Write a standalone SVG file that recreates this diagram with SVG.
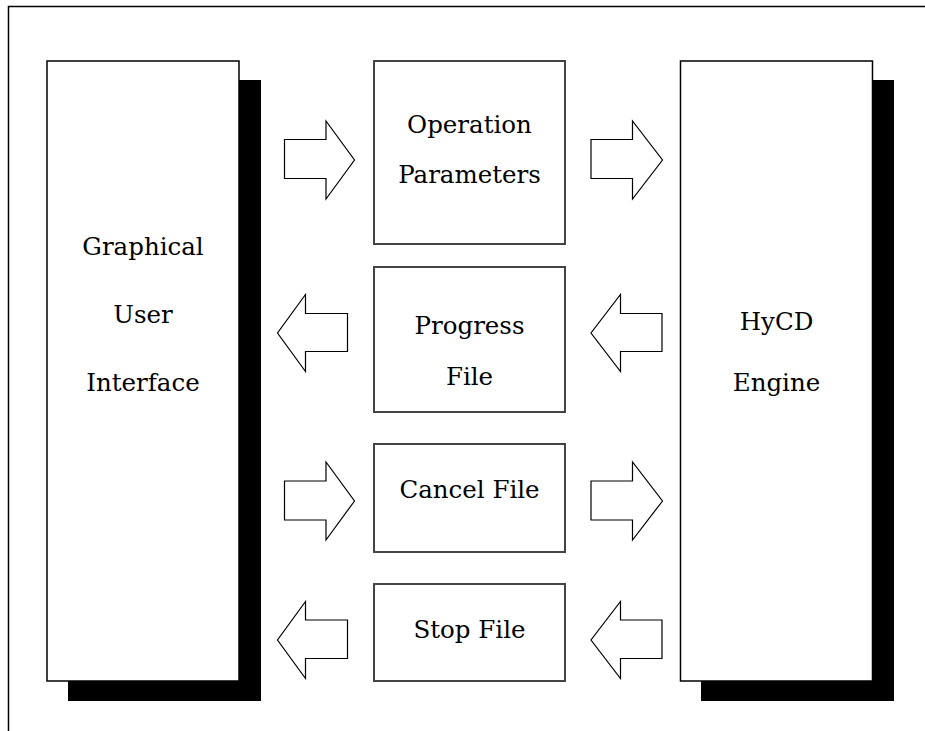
<svg xmlns="http://www.w3.org/2000/svg" width="925" height="731" viewBox="0 0 925 731">
<style>
.frame{fill:none;stroke:#000;stroke-width:1.5}
.shadow{fill:#000}
.big{fill:#fff;stroke:#000;stroke-width:1.5}
.box{fill:#fff;stroke:#444;stroke-width:2}
.arrow{fill:#fff;stroke:#000;stroke-width:1.2;stroke-linejoin:miter}
.t{font-family:'DejaVu Serif','Times New Roman',serif;font-size:24.5px;fill:#000;text-anchor:middle}
</style>
<rect width="925" height="731" fill="#fff"/>
<rect class="frame" x="8.5" y="6.5" width="1000" height="1000"/>
<g id="gui">
<rect class="shadow" x="68" y="80" width="193" height="621"/>
<rect class="big" x="47" y="61" width="192" height="620"/>
<text class="t" x="143" y="255">Graphical</text>
<text class="t" x="143" y="323">User</text>
<text class="t" x="143" y="391">Interface</text>
</g>
<g id="engine">
<rect class="shadow" x="701" y="80" width="193" height="621"/>
<rect class="big" x="680.5" y="61" width="192" height="620"/>
<text class="t" x="776.5" y="330">HyCD</text>
<text class="t" x="776.5" y="391">Engine</text>
</g>
<g id="operation">
<rect class="box" x="374" y="61" width="191" height="183"/>
<text class="t" x="469.5" y="133">Operation</text>
<text class="t" x="469.5" y="183">Parameters</text>
</g>
<g id="progress">
<rect class="box" x="374" y="267" width="191" height="145"/>
<text class="t" x="469.5" y="334">Progress</text>
<text class="t" x="469.5" y="385">File</text>
</g>
<g id="cancel">
<rect class="box" x="374" y="444" width="191" height="108"/>
<text class="t" x="469.5" y="498">Cancel File</text>
</g>
<g id="stop">
<rect class="box" x="374" y="584" width="191" height="97"/>
<text class="t" x="469.5" y="638">Stop File</text>
</g>
<g id="connectors">
<path class="arrow" d="M284.5,139.5 H326 V121 L354.5,160 L326,199 V178.5 H284.5 Z"/>
<path class="arrow" d="M591,139.5 H632.5 V121 L662.5,160 L632.5,199 V178.5 H591 Z"/>
<path class="arrow" d="M347.5,313.5 H305.5 V294.5 L277.5,333 L305.5,371.5 V351.5 H347.5 Z"/>
<path class="arrow" d="M662,313.5 H620.5 V294.5 L591,333 L620.5,371.5 V351.5 H662 Z"/>
<path class="arrow" d="M284.5,481 H326 V462 L354.5,501 L326,540 V520 H284.5 Z"/>
<path class="arrow" d="M591,481 H632.5 V462 L662.5,501 L632.5,540 V520 H591 Z"/>
<path class="arrow" d="M347.5,620 H305.5 V601.5 L277.5,640 L305.5,678.5 V658.5 H347.5 Z"/>
<path class="arrow" d="M662,620 H620.5 V601.5 L591,640 L620.5,678.5 V658.5 H662 Z"/>
</g>
</svg>
